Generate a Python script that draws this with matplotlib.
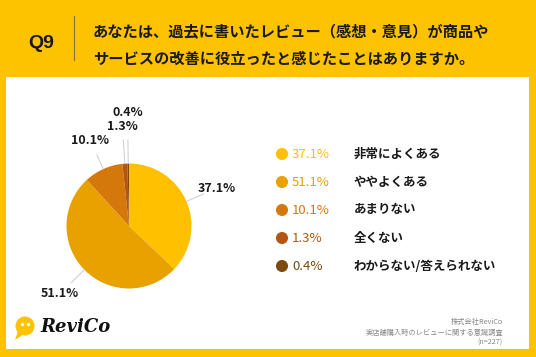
import matplotlib
matplotlib.use('Agg')
import matplotlib.pyplot as plt
from matplotlib.patches import Rectangle, Circle, Polygon
import numpy as np

plt.rcParams['font.family'] = ['Noto Sans CJK JP', 'DejaVu Sans']

# Data
categories = ['非常によくある', 'ややよくある', 'あまりない', '全くない', 'わからない/答えられない']
values = [37.1, 51.1, 10.1, 1.3, 0.4]
colors = ['#FFC000', '#E9A100', '#D5780B', '#B4560F', '#7A4A10']
question = 'Q9'
title_lines = ['あなたは、過去に書いたレビュー（感想・意見）が商品や',
               'サービスの改善に役立ったと感じたことはありますか。']
source_lines = ['株式会社ReviCo', '実店舗購入時のレビューに関する意識調査', '(n=227)']

W, H = 536, 357
YELLOW = '#FDC300'
DARK = '#1a1a1a'

fig = plt.figure(figsize=(W / 100, H / 100), dpi=100, facecolor=YELLOW)

# overlay axes in pixel coordinates
bg = fig.add_axes([0, 0, 1, 1])
bg.set_xlim(0, W)
bg.set_ylim(H, 0)
bg.axis('off')
bg.add_patch(Rectangle((6, 77), 523, 272, facecolor='white', edgecolor='none'))

# header
bg.text(41, 44, question, fontsize=14, fontweight='bold', family='Liberation Sans',
        ha='center', va='center', color=DARK)
bg.plot([74, 74], [16, 60], color='#8a7330', lw=0.8)
for i, line in enumerate(title_lines):
    bg.text(93, 31 + i * 28, line, fontsize=11, fontweight='bold', ha='left', va='center',
            color=DARK)

# pie
cx, cy, size = 129, 226, 200
ax = fig.add_axes([(cx - size / 2) / W, (H - cy - size / 2) / H, size / W, size / H])
wedges, _ = ax.pie(values, colors=colors, startangle=90, counterclock=False, radius=1.0,
                   wedgeprops=dict(linewidth=0))
ax.set_xlim(-1.6, 1.6)
ax.set_ylim(-1.6, 1.6)
ax.set_aspect('equal')
ax.axis('off')

label_r = [1.52, 1.55, 1.5, 1.6, 1.82]
line_end = [1.3, 1.3, 1.25, 1.38, 1.38]
for w, v, lr, le in zip(wedges, values, label_r, line_end):
    ang = np.deg2rad((w.theta1 + w.theta2) / 2)
    c, s = np.cos(ang), np.sin(ang)
    ax.plot([c * 1.0, c * le], [s * 1.0, s * le], color='#cccccc', lw=0.7, clip_on=False)
    ax.text(c * lr, s * lr, f'{v}%', fontsize=9, fontweight='bold', ha='center',
            va='center', color=DARK)

# legend
for i, (cat, v, col) in enumerate(zip(categories, values, colors)):
    y = 154 + i * 28
    bg.scatter([282], [y], s=75, color=col, edgecolors='none')
    bg.text(292, y, f'{v}%', fontsize=9.5, color=col, ha='left', va='center')
    bg.text(354, y, cat, fontsize=9, fontweight='bold', color=DARK, ha='left', va='center')

# logo
bg.add_patch(Circle((25, 326), 9.5, facecolor=YELLOW, edgecolor='none'))
bg.add_patch(Polygon([[18, 331], [15, 340], [24, 334]], closed=True, facecolor=YELLOW,
                     edgecolor='none'))
bg.scatter([22, 28], [324, 324], s=2, color='white')
bg.text(40, 327, 'ReviCo', fontsize=13, fontstyle='italic', fontweight='bold',
        family='DejaVu Serif', ha='left', va='center', color='#111111')

# source
for i, line in enumerate(source_lines):
    bg.text(503, 322 + i * 10.5, line, fontsize=5.2, color='#888888', ha='right', va='center')

fig.savefig('out.png', dpi=100, facecolor=YELLOW)
